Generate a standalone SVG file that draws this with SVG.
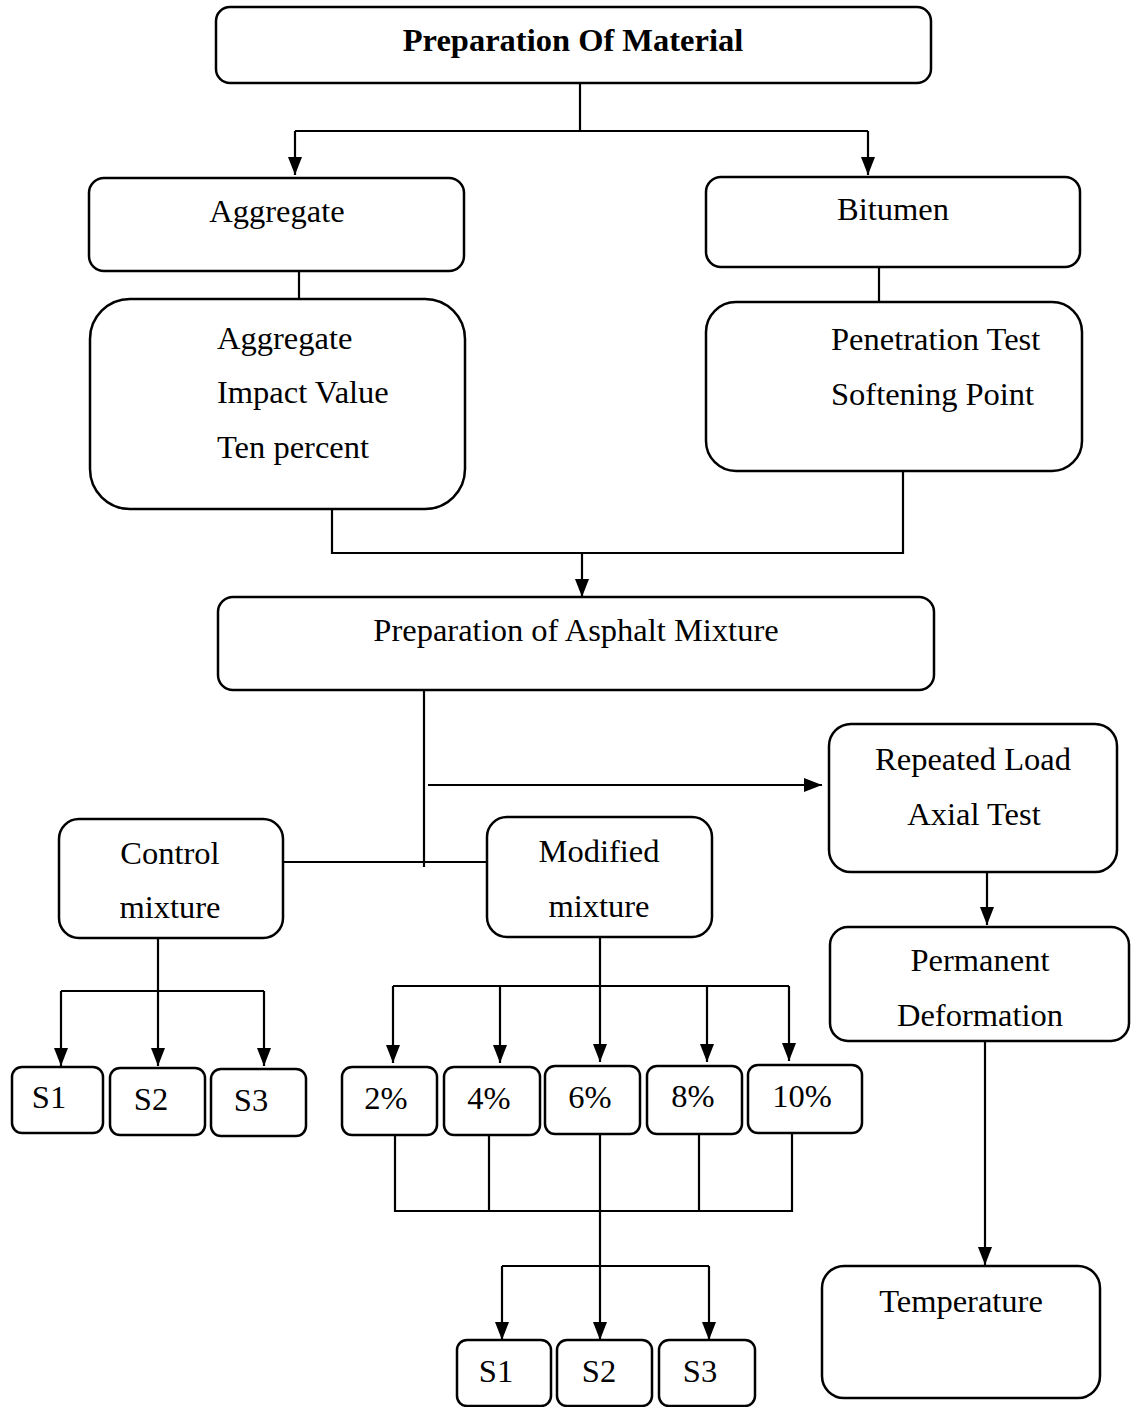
<svg xmlns="http://www.w3.org/2000/svg" width="1136" height="1407" viewBox="0 0 1136 1407">
<style>
.box{fill:#fff;stroke:#000;stroke-width:2.5}
.ln{fill:none;stroke:#000;stroke-width:2.2}
.arr{fill:none;stroke:#000;stroke-width:2.2;marker-end:url(#ah)}
text{font-family:"Liberation Serif","Times New Roman",serif;font-size:32.5px;fill:#000}
.c{text-anchor:middle}
.b{font-weight:bold}
</style>
<defs>
<marker id="ah" markerUnits="userSpaceOnUse" viewBox="0 0 18 14" refX="18" refY="7" markerWidth="18" markerHeight="14" orient="auto">
<path d="M0,0 L18,7 L0,14 z" fill="#000"/>
</marker>
</defs>
<rect width="1136" height="1407" fill="#fff"/>
<g id="connectors">
<path class="ln" d="M580,83 V131 M295,131 H868"/>
<path class="arr" d="M295,131 V175"/>
<path class="arr" d="M868,131 V175"/>
<path class="ln" d="M299,271 V299 M879,267 V303"/>
<path class="ln" d="M332,509 V553 H903 V471"/>
<path class="arr" d="M582,553 V597"/>
<path class="ln" d="M424,685 V867 M283,862 H487"/>
<path class="arr" d="M428,785 H822"/>
<path class="arr" d="M987,872 V925"/>
<path class="arr" d="M985,1041 V1265"/>
<path class="ln" d="M61,991 H264"/>
<path class="arr" d="M158,938 V1066"/>
<path class="arr" d="M61,991 V1066"/>
<path class="arr" d="M264,991 V1066"/>
<path class="ln" d="M393,986 H789"/>
<path class="arr" d="M393,986 V1063"/>
<path class="arr" d="M500,986 V1063"/>
<path class="arr" d="M600,937 V1062"/>
<path class="arr" d="M707,986 V1062"/>
<path class="arr" d="M789,986 V1061"/>
<path class="ln" d="M395,1135 V1211 H792 V1133 M489,1135 V1211 M699,1134 V1211"/>
<path class="ln" d="M502,1266 H709"/>
<path class="arr" d="M600,1134 V1340"/>
<path class="arr" d="M502,1266 V1340"/>
<path class="arr" d="M709,1266 V1340"/>
</g>
<g id="n-material"><rect class="box" x="216" y="7" width="715" height="76" rx="14"/><text class="c b" x="573" y="51">Preparation Of Material</text></g>
<g id="n-aggregate"><rect class="box" x="89" y="178" width="375" height="93" rx="15"/><text class="c" x="277" y="222">Aggregate</text></g>
<g id="n-bitumen"><rect class="box" x="706" y="177" width="374" height="90" rx="15"/><text class="c" x="893" y="220">Bitumen</text></g>
<g id="n-aggtests"><rect class="box" x="90" y="299" width="375" height="210" rx="40"/><text x="217" y="349">Aggregate</text><text x="217" y="403">Impact Value</text><text x="217" y="458">Ten percent</text></g>
<g id="n-bittests"><rect class="box" x="706" y="302" width="376" height="169" rx="30"/><text x="831" y="350">Penetration Test</text><text x="831" y="405">Softening Point</text></g>
<g id="n-asphalt"><rect class="box" x="218" y="597" width="716" height="93" rx="15"/><text class="c" x="576" y="641">Preparation of Asphalt Mixture</text></g>
<g id="n-rlat"><rect class="box" x="829" y="724" width="288" height="148" rx="22"/><text class="c" x="973" y="770">Repeated Load</text><text class="c" x="974" y="825">Axial Test</text></g>
<g id="n-control"><rect class="box" x="59" y="819" width="224" height="119" rx="20"/><text class="c" x="170" y="864">Control</text><text class="c" x="170" y="918">mixture</text></g>
<g id="n-modified"><rect class="box" x="487" y="817" width="225" height="120" rx="20"/><text class="c" x="599" y="862">Modified</text><text class="c" x="599" y="917">mixture</text></g>
<g id="n-permdef"><rect class="box" x="830" y="927" width="299" height="114" rx="18"/><text class="c" x="980" y="971">Permanent</text><text class="c" x="980" y="1026">Deformation</text></g>
<g id="n-temp"><rect class="box" x="822" y="1266" width="278" height="132" rx="22"/><text class="c" x="961" y="1312">Temperature</text></g>
<g id="n-cs1"><rect class="box" x="12" y="1067" width="91" height="66" rx="10"/><text class="c" x="49" y="1108">S1</text></g>
<g id="n-cs2"><rect class="box" x="110" y="1068" width="95" height="67" rx="10"/><text class="c" x="151" y="1110">S2</text></g>
<g id="n-cs3"><rect class="box" x="211" y="1069" width="95" height="67" rx="10"/><text class="c" x="251" y="1111">S3</text></g>
<g id="n-p2"><rect class="box" x="342" y="1067" width="95" height="68" rx="10"/><text class="c" x="386" y="1109">2%</text></g>
<g id="n-p4"><rect class="box" x="444" y="1067" width="96" height="68" rx="10"/><text class="c" x="489" y="1109">4%</text></g>
<g id="n-p6"><rect class="box" x="545" y="1066" width="95" height="68" rx="10"/><text class="c" x="590" y="1108">6%</text></g>
<g id="n-p8"><rect class="box" x="647" y="1066" width="95" height="68" rx="10"/><text class="c" x="693" y="1107">8%</text></g>
<g id="n-p10"><rect class="box" x="748" y="1065" width="114" height="68" rx="10"/><text class="c" x="802" y="1107">10%</text></g>
<g id="n-ms1"><rect class="box" x="457" y="1340" width="94" height="66" rx="10"/><text class="c" x="496" y="1382">S1</text></g>
<g id="n-ms2"><rect class="box" x="557" y="1340" width="95" height="66" rx="10"/><text class="c" x="599" y="1382">S2</text></g>
<g id="n-ms3"><rect class="box" x="659" y="1340" width="96" height="66" rx="10"/><text class="c" x="700" y="1382">S3</text></g>
</svg>
